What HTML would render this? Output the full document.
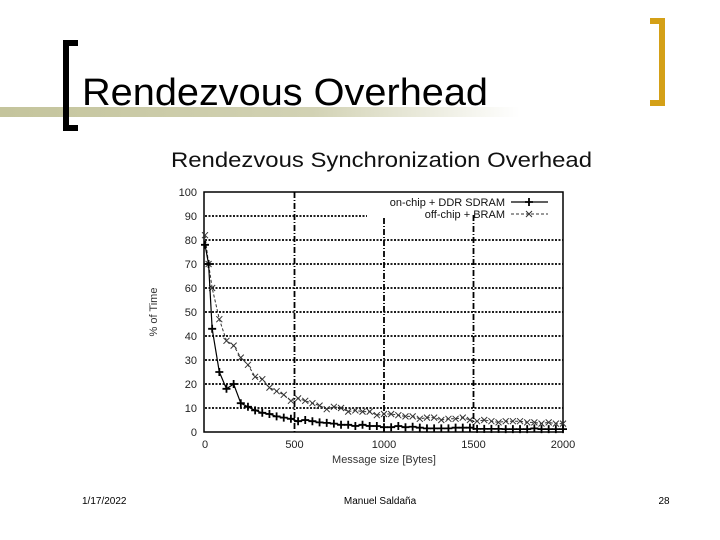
<!DOCTYPE html>
<html><head><meta charset="utf-8"><style>
html,body{margin:0;padding:0;background:#fff;}
svg{display:block;font-family:"Liberation Sans",Arial,sans-serif;}
</style></head><body>
<svg id="page" width="720" height="540" viewBox="0 0 720 540">
<defs>
<linearGradient id="bar" x1="0" x2="1" y1="0" y2="0">
<stop offset="0" stop-color="#c4c49c"/><stop offset="0.6" stop-color="#d2d2b4"/><stop offset="1" stop-color="#ffffff"/>
</linearGradient>
</defs>
<rect x="0" y="107" width="520" height="10" fill="url(#bar)"/>
<path d="M78,43 H66 V128 H78" fill="none" stroke="#000" stroke-width="6"/>
<path d="M650,21 H662 V103 H650" fill="none" stroke="#d4a017" stroke-width="6"/>
<text x="82" y="105" font-size="38" textLength="406" lengthAdjust="spacingAndGlyphs">Rendezvous Overhead</text>
<text x="171" y="167" font-size="21" textLength="421" lengthAdjust="spacingAndGlyphs" fill="#111">Rendezvous Synchronization Overhead</text>
<g id="chart"></g>
<text x="82" y="504" font-size="10">1/17/2022</text>
<text x="380" y="504" font-size="10" text-anchor="middle">Manuel Saldaña</text>
<text x="664" y="504" font-size="10" text-anchor="middle">28</text>
</svg>
<script>
const xValues=[0,20,40,80,120,160,200,240,280,320,360,400,440,480,520,560,600,640,680,720,760,800,840,880,920,960,1000,1040,1080,1120,1160,1200,1240,1280,1320,1360,1400,1440,1480,1520,1560,1600,1640,1680,1720,1760,1800,1840,1880,1920,1960,2000];
const onChip=[78,70,43,25,18,20,12,10.5,9,8,7.5,6.5,6,5.5,4.5,5,4.5,4,3.8,3.5,3,3,2.5,3,2.5,2.5,2,2,2.5,2,2.2,1.8,1.5,1.5,1.5,1.5,1.8,1.8,1.8,1.3,1.3,1.3,1.3,1.2,1.2,1.2,1.2,1.5,1.2,1.2,1.2,1.2];
const offChip=[82,70,60,47,38,36,31,28,23,22,18.5,17,15.5,13,14,13,12,11,9.5,10.5,10,8.5,9,8.5,8.5,7,7.5,7.5,7,6.5,6.5,5.5,6,6,5,5.5,5.5,6,5,4.5,5,4.5,4,4.5,4.5,4.5,4,4,3.5,4,3.5,3.5];
const yTicks=[0,10,20,30,40,50,60,70,80,90,100];
const xTicks=[0,500,1000,1500,2000];
const L=205,R=563,T=192,B=432;
const sx=v=>L+(v-0)/2000*(R-L);
const sy=v=>B-(v/100)*(B-T);
const NS="http://www.w3.org/2000/svg";
const g=document.getElementById('chart');
function mk(tag,attrs,parent){const e=document.createElementNS(NS,tag);for(const k in attrs)e.setAttribute(k,attrs[k]);(parent||g).appendChild(e);return e;}
yTicks.forEach(t=>{
 if(t>0&&t<100){const l=mk('line',{x1:L,x2:(t===90?367:R),y1:sy(t),y2:sy(t),stroke:'#000','stroke-width':1.7,'stroke-dasharray':'2,1.5'});
 
 }
 const tx=mk('text',{x:L-8,y:sy(t)+4,'font-size':11,'text-anchor':'end',fill:'#222'});tx.textContent=t;
 
 
});
xTicks.forEach(t=>{
 if(t>0&&t<2000){const l=mk('line',{x1:sx(t),x2:sx(t),y1:(t===1000?218:(t===1500?215:T)),y2:B,stroke:'#000','stroke-width':1.8,'stroke-dasharray':'6,2,1,2'});
 
 }
 const tx=mk('text',{x:sx(t),y:B+16,'font-size':11,'text-anchor':'middle',fill:'#222'});tx.textContent=t;
 
 
});
const frame=mk('rect',{x:L-1,y:T,width:R-L+1,height:B-T,fill:'none',stroke:'#000','stroke-width':1.5});


const xt=mk('text',{x:(L+R)/2,y:463,'font-size':11,'text-anchor':'middle',fill:'#333'});xt.textContent='Message size [Bytes]';


const yt=mk('text',{x:0,y:0,'font-size':11,'text-anchor':'middle',fill:'#333',transform:'translate(157,312) rotate(-90)'});yt.textContent='% of Time';


function pts(arr){return xValues.map((x,i)=>sx(x)+','+sy(arr[i])).join(' ');}
const l2=mk('polyline',{points:pts(offChip),fill:'none',stroke:'#333','stroke-width':1,'stroke-dasharray':'3,2'});


xValues.forEach((x,i)=>{const X=sx(x),Y=sy(offChip[i]);const p=mk('path',{d:`M${X-3},${Y-3}L${X+3},${Y+3}M${X-3},${Y+3}L${X+3},${Y-3}`,stroke:'#333','stroke-width':1});
 
 });
const l1=mk('polyline',{points:pts(onChip),fill:'none',stroke:'#000','stroke-width':1.2});


xValues.forEach((x,i)=>{const X=sx(x),Y=sy(onChip[i]);const p=mk('path',{d:`M${X-4},${Y}H${X+4}M${X},${Y-4}V${Y+4}`,stroke:'#000','stroke-width':1.8});
 
 });
const lg=mk('g',{});


const t1=mk('text',{x:505,y:206,'font-size':11,'text-anchor':'end',fill:'#111'},lg);t1.textContent='on-chip + DDR SDRAM';


mk('line',{x1:511,x2:548,y1:202,y2:202,stroke:'#000','stroke-width':1.2},lg);
mk('path',{d:'M525,202H533M529,198V206',stroke:'#000','stroke-width':1.8},lg);
const t2=mk('text',{x:505,y:218,'font-size':11,'text-anchor':'end',fill:'#111'},lg);t2.textContent='off-chip + BRAM';


mk('line',{x1:511,x2:548,y1:214,y2:214,stroke:'#333','stroke-width':1,'stroke-dasharray':'3,2'},lg);
mk('path',{d:'M526,211L532,217M526,217L532,211',stroke:'#333','stroke-width':1},lg);
</script>
</body></html>
